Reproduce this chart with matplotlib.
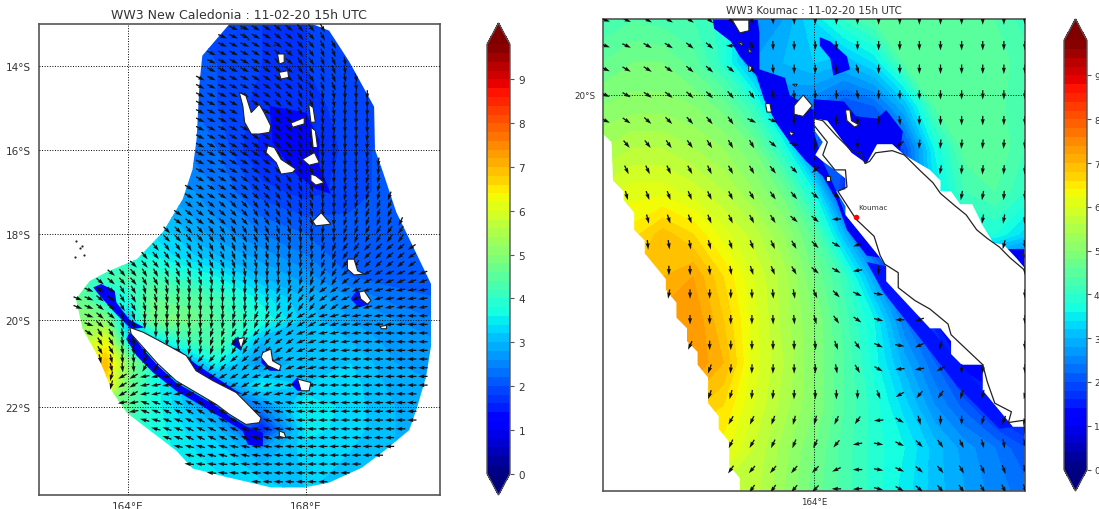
import numpy as np
import matplotlib
matplotlib.use("Agg")
import matplotlib.pyplot as plt
from matplotlib.patches import Polygon
from matplotlib.path import Path

TITLE_L = "WW3 New Caledonia : 11-02-20 15h UTC"
TITLE_R = "WW3 Koumac : 11-02-20 15h UTC"
LEVELS = np.arange(0, 9.81, 0.2)
CB_TICKS = list(range(10))
GREY = "#555555"
TEXT = "#333333"

# ---------- left panel: wave height table ----------
H1_LON = [162.5, 163, 163.5, 164, 164.5, 165, 165.5, 166, 167, 168, 169, 170, 171]
H1_LAT = [-24, -23, -22.5, -22, -21.5, -21, -20.5, -20, -19.5, -19, -18.5, -18, -17, -16, -15, -14, -13]
H1 = [
    [3.6, 3.6, 3.6, 3.6, 3.6, 3.5, 3.5, 3.5, 3.4, 3.2, 3.1, 3, 2.9],
    [3.9, 3.9, 3.9, 3.8, 3.7, 3.6, 3.4, 3.3, 2.8, 3.3, 3.2, 3, 2.9],
    [4.5, 4.5, 4.5, 4.1, 3.8, 3.5, 3.3, 3, 1.5, 3.5, 3.3, 3, 2.9],
    [5, 5, 5, 4.5, 3.8, 3.4, 3, 2.6, 2.5, 3.6, 3.3, 3, 2.9],
    [6.5, 6.5, 6.5, 4.8, 3.8, 3.3, 2.8, 2.5, 3.5, 3.2, 3.3, 2.9, 2.8],
    [6, 6, 7, 5, 4, 3, 3, 3.6, 2.6, 3.2, 3.2, 2.8, 2.7],
    [5.6, 5.6, 6.2, 3.5, 3, 3.7, 4.2, 4.4, 3, 3.2, 3, 2.7, 2.6],
    [5, 5, 5, 3, 4.7, 4.9, 4.7, 4.4, 3.8, 3.1, 2.8, 2.6, 2.4],
    [4.6, 4.6, 3.5, 3.7, 4.6, 4.5, 4.5, 4.2, 3.5, 3, 2.6, 2.3, 2.2],
    [4.2, 4.2, 4.2, 4.3, 4.2, 4.0, 3.8, 3.6, 3, 2.7, 2.2, 2.1, 2.2],
    [3.9, 3.9, 3.9, 3.7, 3.6, 3.4, 3.2, 3, 2.7, 2.4, 2, 2.1, 2.2],
    [3.5, 3.5, 3.5, 3.5, 3.4, 3.2, 2.9, 2.7, 2.4, 2.2, 2.1, 2.2, 2.2],
    [2.7, 2.7, 2.7, 2.7, 2.7, 2.7, 2.6, 2.4, 1.9, 1.7, 1.9, 2.1, 2.1],
    [2.3, 2.3, 2.3, 2.3, 2.3, 2.3, 2.3, 2.2, 1.5, 1.5, 1.9, 2.1, 2.1],
    [2.2, 2.2, 2.2, 2.2, 2.2, 2.2, 2.2, 2.0, 1.7, 1.7, 1.9, 2, 2],
    [2, 2, 2, 2, 2, 2.1, 2.1, 2.0, 1.8, 1.8, 1.9, 2, 2],
    [2, 2, 2, 2, 2, 2, 2, 2, 1.8, 1.8, 1.9, 2, 2],
]
DOMAIN1 = [(166.28, -13.0), (168.14, -13.0), (168.52, -13.16), (168.97, -13.9), (169.53, -14.98),
           (169.55, -16.0), (169.71, -16.47), (170.03, -17.48), (170.32, -18.1), (170.43, -18.34),
           (170.81, -19.16), (170.81, -20.6), (170.7, -21.3), (170.5, -22.0), (170.32, -22.53),
           (169.76, -23.0), (169.26, -23.38), (168.52, -23.72), (167.96, -23.83), (167.22, -23.83),
           (166.28, -23.61), (165.45, -23.4), (165.09, -23.0), (164.78, -22.76), (164.26, -22.36),
           (163.97, -22.13), (163.66, -21.67), (163.52, -21.32), (163.32, -20.83), (162.98, -20.2),
           (162.83, -19.51), (163.14, -19.09), (163.52, -18.88), (164.2, -18.58), (164.78, -17.95),
           (165.23, -17.17), (165.45, -16.47), (165.54, -15.76), (165.61, -14.38), (165.67, -13.76)]
# sheltered water behind the islands: (height value, outline)
LEE1 = [
    (1.0, [(164.04, -20.28), (164.34, -20.67), (164.67, -21.05), (165.08, -21.44), (165.53, -21.71),
           (165.98, -21.98), (166.28, -22.21), (166.65, -22.44), (167.03, -22.59), (167.03, -22.9),
           (166.69, -22.86), (166.58, -22.55), (165.98, -22.17), (165.53, -21.9), (165.08, -21.63),
           (164.56, -21.21), (164.19, -20.82), (163.96, -20.44)]),
    (1.2, [(163.22, -19.24), (163.4, -19.16), (163.7, -19.32), (163.74, -19.59), (164.04, -20.0),
           (164.37, -20.17), (164.07, -20.21), (163.66, -19.78), (163.33, -19.39)]),
    (1.2, [(164.93, -20.63), (165.12, -20.67), (165.53, -21.02), (166.43, -21.63), (166.58, -21.71),
           (166.28, -21.67), (165.53, -21.25)]),
    (0.8, [(166.32, -20.55), (166.47, -20.38), (166.59, -20.52), (166.54, -20.71)]),
    (1.2, [(166.99, -20.98), (167.03, -20.71), (167.21, -20.82), (167.44, -21.17), (167.18, -21.17)]),
    (1.2, [(167.66, -21.48), (167.81, -21.32), (168.0, -21.63), (167.81, -21.63)]),
    (1.3, [(167.18, -14.96), (168.0, -15.12), (168.3, -15.76), (168.3, -16.38), (168.56, -17.05),
           (168.22, -16.93), (167.77, -16.58), (167.25, -15.84)]),
    (1.4, [(169.0, -19.51), (169.16, -19.28), (169.42, -19.63), (169.19, -19.71)]),
]
ISLANDS1 = [
    [(164.04, -20.17), (164.34, -20.28), (164.78, -20.52), (165.31, -20.82), (165.53, -21.17), (165.91, -21.4),
     (166.43, -21.67), (166.73, -21.98), (166.99, -22.25), (166.95, -22.36), (166.65, -22.4), (166.28, -22.17),
     (165.98, -21.94), (165.53, -21.67), (165.08, -21.4), (164.67, -21.01), (164.34, -20.63), (164.07, -20.32)],
    [(166.5, -14.64), (166.65, -14.72), (166.77, -15.12), (166.95, -14.92), (167.06, -15.12), (167.21, -15.44),
     (167.18, -15.59), (166.95, -15.63), (166.77, -15.63), (166.62, -15.35), (166.58, -14.96)],
    [(167.14, -15.91), (167.29, -15.95), (167.44, -16.23), (167.77, -16.46), (167.7, -16.54), (167.44, -16.58),
     (167.33, -16.31), (167.1, -16.07)],
    [(167.66, -15.37), (167.96, -15.24), (167.96, -15.39), (167.7, -15.47)],
    [(168.06, -14.92), (168.16, -15.0), (168.21, -15.35), (168.11, -15.35)],
    [(168.11, -15.47), (168.21, -15.55), (168.26, -15.95), (168.16, -15.95)],
    [(167.92, -16.23), (168.19, -16.07), (168.3, -16.31), (168.07, -16.37)],
    [(168.11, -16.58), (168.22, -16.62), (168.41, -16.78), (168.22, -16.84), (168.11, -16.74)],
    [(168.15, -17.69), (168.34, -17.49), (168.56, -17.76), (168.22, -17.8)],
    [(167.36, -13.72), (167.51, -13.72), (167.51, -13.92), (167.4, -13.96)],
    [(167.39, -14.16), (167.59, -14.12), (167.61, -14.28), (167.44, -14.32)],
    [(168.93, -18.58), (169.08, -18.58), (169.16, -18.85), (169.31, -18.93), (169.08, -18.95), (168.93, -18.81)],
    [(169.19, -19.35), (169.31, -19.32), (169.46, -19.55), (169.38, -19.63), (169.23, -19.51)],
    [(169.66, -20.15), (169.81, -20.12), (169.81, -20.2), (169.7, -20.2)],
    [(166.47, -20.44), (166.62, -20.4), (166.54, -20.67)],
    [(167.03, -20.75), (167.21, -20.67), (167.25, -20.94), (167.44, -21.05), (167.4, -21.17), (167.14, -21.05), (166.99, -20.86)],
    [(167.81, -21.36), (168.11, -21.44), (168.07, -21.63), (167.89, -21.63)],
    [(167.4, -22.55), (167.51, -22.59), (167.55, -22.71), (167.4, -22.67)],
]
DOTS1_LON = [166.54, 166.58, 166.69, 167.29, 167.63, 168.0, 168.22, 168.31, 168.56, 168.37, 168.33, 162.84, 162.96, 162.92, 162.8, 163.0]
DOTS1_LAT = [-13.1, -13.24, -13.36, -13.5, -13.65, -14.38, -16.46, -16.48, -16.93, -17.05, -17.43, -18.16, -18.27, -18.31, -18.52, -18.48]

# arrow orientation table, degrees
A1_LON = [163, 163.5, 164, 164.5, 165, 165.5, 166, 166.5, 167, 167.5, 168, 168.5, 169, 169.5, 170, 170.5]
A1_LAT = [-13, -14, -15, -16, -17, -17.5, -18, -18.5, -19, -19.5, -20, -20.5, -21, -21.5, -22, -22.5, -23, -23.5]
A1 = [
    [-30, -30, -30, -30, -30, -28, -25, -25, -30, -38, -50, -62, -75, -85, -90, -90],
    [-30, -30, -30, -30, -30, -27, -25, -27, -32, -40, -55, -68, -80, -88, -92, -92],
    [-30, -30, -30, -30, -30, -27, -26, -28, -35, -45, -65, -80, -88, -92, -96, -98],
    [-30, -30, -30, -30, -30, -27, -27, -30, -35, -45, -65, -85, -92, -98, -102, -105],
    [-30, -30, -30, -30, -30, -30, -32, -38, -45, -55, -70, -90, -100, -105, -110, -115],
    [-35, -35, -35, -35, -35, -38, -42, -48, -55, -62, -75, -92, -105, -110, -115, -120],
    [-40, -40, -40, -40, -45, -50, -55, -60, -65, -72, -85, -97, -110, -118, -125, -130],
    [-45, -45, -45, -50, -55, -60, -65, -70, -76, -85, -97, -110, -125, -135, -140, -145],
    [-30, -40, -50, -60, -68, -72, -78, -82, -88, -95, -105, -120, -140, -150, -158, -160],
    [-22, -38, -60, -75, -80, -85, -88, -93, -100, -110, -125, -145, -158, -165, -170, -172],
    [-20, -40, -75, -88, -90, -92, -97, -105, -115, -130, -150, -165, -172, -175, -178, -180],
    [-35, -60, -80, -90, -95, -100, -108, -120, -130, -145, -160, -170, -175, -178, -180, -180],
    [-60, -78, -85, -120, -135, -130, -130, -140, -150, -160, -168, -175, -178, -180, -180, -180],
    [-100, -105, -150, -170, -170, -160, -150, -150, -160, -170, -175, -178, -180, -180, -180, -180],
    [-150, -150, -170, -200, -205, -210, -212, -212, -200, -190, -182, -180, -180, -180, -180, -180],
    [-190, -190, -190, -195, -200, -205, -205, -205, -195, -187, -182, -180, -180, -180, -180, -180],
    [-192, -192, -192, -192, -192, -195, -195, -192, -187, -184, -180, -180, -180, -180, -180, -180],
    [-185, -185, -185, -185, -185, -185, -185, -185, -183, -182, -180, -180, -180, -180, -180, -180],
]
ARROW1_LON = np.arange(162.875, 170.9, 0.25)
ARROW1_LAT = np.arange(-13.1, -23.95, -0.2)

# ---------- right panel ----------
H2_LON = [162.6, 162.8, 163, 163.2, 163.4, 163.6, 163.8, 164, 164.2, 164.4, 164.6, 164.8, 165, 165.2, 165.4]
H2_LAT = [-21.85, -21.65, -21.45, -21.25, -21.05, -20.85, -20.65, -20.45, -20.25, -20.05, -19.85, -19.65, -19.6]
H2 = [
    [5.7, 5.7, 5.7, 5.7, 5.7, 5.7, 5.2, 4.7, 4.3, 3.9, 3.5, 3.1, 2.8, 2.5, 2.3],
    [6.3, 6.3, 6.3, 6.3, 6.3, 5.8, 5.3, 4.8, 4.3, 3.9, 3.6, 3.1, 2.7, 2.4, 2.0],
    [6.6, 6.6, 6.6, 6.9, 6.6, 6.0, 5.5, 5.0, 4.4, 3.9, 3.3, 2.6, 2.1, 1.5, 1.2],
    [7.2, 7.2, 7.2, 7.4, 7.0, 6.1, 5.6, 5.0, 4.4, 3.7, 2.9, 2.2, 1.2, 1.2, 1.2],
    [7.3, 7.3, 7.3, 7.4, 6.8, 6.1, 5.5, 5.0, 4.3, 3.6, 2.4, 1.4, 1.2, 1.2, 1.2],
    [6.8, 6.8, 7.0, 7.2, 6.6, 6.0, 5.5, 4.8, 4.1, 2.8, 1.5, 1.5, 1.5, 1.5, 1.5],
    [6.3, 6.5, 6.9, 6.6, 6.1, 5.7, 5.2, 4.5, 3.0, 1.5, 2.4, 3.0, 3.6, 3.8, 3.3],
    [5.9, 6.1, 6.1, 5.9, 5.6, 5.2, 4.7, 3.6, 1.6, 1.5, 2.0, 3.4, 4.2, 4.4, 4.0],
    [5.4, 5.6, 5.6, 5.4, 5.2, 4.8, 3.8, 2.2, 2.0, 2.0, 2.0, 3.6, 4.5, 4.6, 4.2],
    [5.0, 5.1, 5.1, 5.0, 4.7, 4.0, 2.6, 2.4, 2.0, 2.2, 3.0, 4.4, 4.6, 4.5, 4.2],
    [4.6, 4.8, 4.8, 4.5, 3.9, 2.8, 3.0, 3.2, 3.0, 3.4, 4.4, 4.6, 4.6, 4.5, 4.3],
    [4.2, 4.4, 4.3, 4.2, 3.9, 2.8, 2.8, 3.4, 4.0, 4.4, 4.5, 4.5, 4.5, 4.4, 4.1],
    [4.2, 4.4, 4.3, 4.2, 3.9, 2.8, 2.8, 3.4, 4.0, 4.4, 4.5, 4.5, 4.5, 4.4, 4.1],
]
LEE2 = [
    (1.0, [(163.32, -19.6), (163.34, -19.69), (163.45, -19.75), (163.51, -19.82), (163.62, -19.91), (163.67, -20.02),
           (163.75, -20.13), (163.84, -20.22), (163.95, -20.31), (164.06, -20.38), (164.15, -20.49), (164.22, -20.63),
           (164.35, -20.75), (164.44, -20.76), (164.21, -20.56), (164.15, -20.45), (164.06, -20.31), (164.0, -20.17),
           (164.0, -20.07), (163.84, -20.0), (163.81, -19.92), (163.64, -19.88), (163.64, -19.71), (163.62, -19.6)]),
    (1.1, [(164.04, -19.73), (164.11, -19.75), (164.22, -19.82), (164.24, -19.88), (164.13, -19.91), (164.11, -19.83), (164.04, -19.77)]),
    (1.0, [(164.0, -20.02), (164.2, -20.03), (164.28, -20.1), (164.42, -20.11), (164.48, -20.07), (164.59, -20.17),
           (164.57, -20.27), (164.52, -20.23), (164.42, -20.23), (164.35, -20.32), (164.25, -20.27), (164.09, -20.12), (164.0, -20.11)]),
    (1.4, [(164.48, -20.8), (164.77, -21.09), (164.98, -21.26), (165.12, -21.38), (165.32, -21.55), (165.23, -21.56),
           (164.95, -21.36), (164.73, -21.16), (164.46, -20.92), (164.35, -20.78)]),
    (1.0, [(165.26, -20.72), (165.4, -20.72), (165.4, -20.81), (165.34, -20.76)]),
]
DOMAIN2 = [(162.6, -19.6), (162.6, -20.18), (162.66, -20.22), (162.67, -20.4), (162.74, -20.45), (162.74, -20.49),
           (162.81, -20.55), (162.81, -20.63), (162.88, -20.68), (162.88, -20.74), (163.02, -20.86), (163.02, -20.91),
           (163.09, -20.97), (163.09, -21.04), (163.16, -21.09), (163.16, -21.15), (163.23, -21.2), (163.23, -21.26),
           (163.3, -21.32), (163.3, -21.44), (163.37, -21.5), (163.37, -21.56), (163.44, -21.62), (163.44, -21.73),
           (163.51, -21.79), (163.51, -21.9), (165.4, -21.9), (165.4, -19.6)]
LAND2 = [(164.0, -20.11), (164.09, -20.12), (164.25, -20.27), (164.35, -20.32), (164.42, -20.23), (164.52, -20.23),
         (164.6, -20.28), (164.77, -20.35), (164.84, -20.4), (164.84, -20.45), (164.91, -20.45), (164.97, -20.51),
         (165.05, -20.51), (165.12, -20.61), (165.19, -20.69), (165.26, -20.7), (165.34, -20.76), (165.4, -20.81),
         (165.4, -21.55), (165.32, -21.55), (165.12, -21.38), (165.12, -21.26), (164.98, -21.26), (164.91, -21.21),
         (164.91, -21.15), (164.84, -21.09), (164.77, -21.09), (164.48, -20.87), (164.48, -20.8), (164.44, -20.76),
         (164.21, -20.56), (164.21, -20.52), (164.15, -20.45), (164.21, -20.44), (164.21, -20.39), (164.14, -20.35),
         (164.06, -20.31), (164.01, -20.28), (164.06, -20.22), (164.01, -20.17)]
COAST2_A = [(164.0, -20.11), (164.06, -20.12), (164.15, -20.19), (164.25, -20.26), (164.31, -20.27), (164.34, -20.32),
            (164.37, -20.31), (164.41, -20.27), (164.52, -20.26), (164.6, -20.28), (164.7, -20.35), (164.79, -20.41),
            (164.84, -20.46), (164.94, -20.52), (165.01, -20.56), (165.08, -20.63), (165.15, -20.67), (165.23, -20.71),
            (165.3, -20.76), (165.4, -20.82)]
COAST2_B = [(164.0, -20.11), (164.0, -20.14), (164.09, -20.22), (164.06, -20.28), (164.14, -20.35), (164.21, -20.35),
            (164.22, -20.43), (164.16, -20.45), (164.28, -20.58), (164.4, -20.66), (164.44, -20.75), (164.47, -20.79),
            (164.56, -20.83), (164.56, -20.9), (164.67, -20.96), (164.77, -21.0), (164.89, -21.07), (164.91, -21.12),
            (165.12, -21.26), (165.15, -21.34), (165.2, -21.44), (165.31, -21.48), (165.29, -21.53), (165.39, -21.52),
            (165.4, -21.58)]
ISLANDS2 = [
    [(163.46, -19.65), (163.57, -19.65), (163.57, -19.7), (163.51, -19.71)],
    [(163.5, -19.75), (163.53, -19.76), (163.52, -19.77)],
    [(163.57, -19.78), (163.59, -19.8), (163.57, -19.8)],
    [(163.57, -19.86), (163.59, -19.87), (163.58, -19.89), (163.57, -19.89)],
    [(163.86, -19.95), (163.89, -19.95), (163.88, -19.96)],
    [(163.68, -20.04), (163.71, -20.04), (163.72, -20.08), (163.69, -20.08)],
    [(163.93, -20.0), (163.99, -20.05), (163.93, -20.1), (163.87, -20.09), (163.87, -20.05)],
    [(163.84, -20.17), (163.87, -20.18), (163.85, -20.19), (163.84, -20.18)],
    [(164.21, -20.07), (164.24, -20.07), (164.25, -20.12), (164.3, -20.14), (164.27, -20.15), (164.22, -20.12)],
    [(164.08, -20.38), (164.11, -20.38), (164.11, -20.4), (164.08, -20.4)],
    [(165.38, -20.74), (165.4, -20.75), (165.4, -20.76)],
]
KOUMAC = (164.28, -20.57)
ARROW2_LON = [162.62, 162.76, 162.9, 163.04, 163.18, 163.31, 163.45, 163.59, 163.73, 163.87, 164.01,
              164.15, 164.29, 164.43, 164.57, 164.7, 164.84, 164.98, 165.12, 165.26, 165.4]
ARROW2_LAT = [-19.65, -19.77, -19.88, -20.0, -20.12, -20.23, -20.35, -20.47, -20.58, -20.7, -20.82,
              -20.93, -21.05, -21.17, -21.28, -21.4, -21.52, -21.63, -21.75, -21.84]
A2 = [
    [-20, -25, -30, -32, -35, -40, -45, -60, -85, -88, -90, -90, -90, -90, -90, -90, -90, -90, -90, -90, -90],
    [-20, -25, -30, -32, -38, -40, -180, -60, -88, -88, -90, -85, -90, -90, -90, -90, -90, -90, -90, -90, -90],
    [-25, -30, -32, -35, -40, -42, -40, -55, -85, -90, -90, -85, -75, -90, -90, -90, -90, -90, -90, -90, -90],
    [-25, -30, -35, -38, -42, -45, -50, -55, -75, -85, -90, -90, -80, -90, -90, -90, -90, -90, -90, -90, -90],
    [-25, -35, -42, -45, -48, -50, -55, -25, -20, -90, -90, -90, -90, -90, -85, -90, -90, -90, -90, -90, -90],
    [-45, -50, -52, -55, -55, -58, -60, -60, -40, -15, -90, -90, -90, -90, -145, -95, -95, -95, -95, -95, -95],
    [-65, -65, -65, -65, -62, -65, -62, -60, -52, -45, -140, -90, -90, -90, -90, -100, -100, -95, -95, -95, -95],
    [-80, -75, -70, -70, -68, -65, -65, -60, -55, -50, -40, -40, -90, -90, -90, -90, -90, -100, -100, -95, -90],
    [-85, -80, -75, -72, -70, -68, -65, -62, -58, -40, -40, -178, -90, -90, -90, -90, -90, -90, -100, -100, -100],
    [-85, -85, -85, -82, -80, -75, -72, -70, -65, -60, -45, -30, -160, -90, -90, -90, -90, -90, -90, -105, -80],
    [-90, -90, -90, -90, -88, -85, -80, -72, -68, -60, -40, -30, -170, -90, -90, -90, -90, -90, -90, -90, -90],
    [-100, -100, -100, -100, -90, -90, -90, -88, -85, -80, -65, -45, -25, -10, -90, -90, -90, -90, -90, -90, -90],
    [-90, -90, -90, -90, -90, -90, -90, -90, -88, -85, -75, -55, -35, -15, -180, -160, -90, -90, -90, -90, -90],
    [-115, -115, -115, -115, -115, -90, -90, -90, -90, -90, -85, -70, -55, -25, -10, -155, -105, -90, -90, -90, -90],
    [-110, -110, -110, -110, -110, -110, -95, -92, -92, -90, -90, -80, -60, -30, -175, -170, -150, -90, -90, -90, -90],
    [-110, -110, -110, -110, -110, -110, -105, -95, -95, -92, -90, -90, -90, -70, -150, -130, -125, -105, -105, -105, -105],
    [-120, -120, -120, -120, -120, -120, -120, -115, -110, -105, -105, -115, -125, -175, -30, -75, -90, -90, -105, -110, -110],
    [-115, -115, -115, -115, -115, -115, -115, -120, -115, -112, -115, -130, -170, -10, -25, -45, -55, -65, -75, -80, -75],
    [-125, -125, -125, -125, -125, -125, -125, -130, -130, -130, -135, -155, -180, -10, -25, -40, -50, -60, -65, -70, -75],
    [-125, -125, -125, -125, -125, -125, -125, -125, -125, -130, -135, -180, -175, -15, -30, -40, -50, -55, -60, -65, -70],
]


def merc(lat):
    return np.degrees(np.log(np.tan(np.radians(45 + np.abs(lat) / 2)))) * np.sign(lat)


def imerc(y):
    return np.degrees(2 * np.arctan(np.exp(np.radians(np.abs(y)))) - np.pi / 2) * np.sign(y)


W, H = 1099, 510


def box(x0, y0, x1, y1):
    return [x0 / W, 1 - y1 / H, (x1 - x0) / W, (y1 - y0) / H]


def style(ax, xticks, xlab, yticks, ylab, size, xpad, ypad):
    ax.set_xticks(xticks, xlab)
    ax.set_yticks(yticks, ylab)
    ax.minorticks_off()
    ax.tick_params(length=0, labelsize=size, labelcolor=TEXT)
    ax.tick_params(axis="x", pad=xpad)
    ax.tick_params(axis="y", pad=ypad)
    ax.grid(True, color="black", ls=":", lw=0.7, zorder=3)
    ax.set_axisbelow(False)
    for s in ax.spines.values():
        s.set_color(GREY)
        s.set_linewidth(1.2)


def field(ax, lon, lat, z, domain):
    clip = Polygon(domain, closed=True, fc="none", ec="none", transform=ax.transData)
    ax.add_patch(clip)
    cs = ax.contourf(lon, lat, np.array(z), levels=LEVELS, cmap="jet", extend="both", zorder=1)
    cs.set_clip_path(clip)
    return cs, clip


def colorbar(fig, cs, rect, size, pad):
    cax = fig.add_axes(rect)
    cb = fig.colorbar(cs, cax=cax, extend="both", extendfrac=0.05, ticks=CB_TICKS, drawedges=False)
    cb.ax.minorticks_off()
    cb.ax.tick_params(labelsize=size, length=3, color=GREY, labelcolor=TEXT, width=0.8, pad=pad)
    cb.outline.set_edgecolor(GREY)
    cb.outline.set_linewidth(1)


QUIVER = dict(pivot="mid", color="#111111", units="dots", width=1.3, scale_units="inches",
              scale=10.5, headwidth=3.2, headlength=5, headaxislength=4.5, zorder=4)

fig = plt.figure(figsize=(W / 100, H / 100), dpi=100)

# ---- left map ----
ax1 = fig.add_axes(box(39, 25, 439.5, 496))
ax1.set_yscale("function", functions=(merc, imerc))
ax1.set_xlim(162, 171)
ax1.set_ylim(-24, -13)
cs1, clip1 = field(ax1, H1_LON, H1_LAT, H1, DOMAIN1)
cmap, norm = cs1.cmap, cs1.norm
for val, outline in LEE1:
    p = Polygon(outline, closed=True, fc=cmap(norm(val)), ec="none", zorder=1.5)
    ax1.add_patch(p)
    p.set_clip_path(clip1)
land1 = [Path(i) for i in ISLANDS1]
dom1 = Path(DOMAIN1)
ax_, ay_, au_, av_ = [], [], [], []
for la in ARROW1_LAT:
    for lo in ARROW1_LON:
        if not dom1.contains_point((lo, la)) or any(p.contains_point((lo, la)) for p in land1):
            continue
        i = int(np.argmin(np.abs(np.array(A1_LAT) - la)))
        j = int(np.argmin(np.abs(np.array(A1_LON) - lo)))
        t = np.radians(A1[i][j])
        ax_.append(lo); ay_.append(la); au_.append(np.cos(t)); av_.append(np.sin(t))
ax1.quiver(ax_, ay_, au_, av_, **QUIVER)
for isl in ISLANDS1:
    ax1.add_patch(Polygon(isl, closed=True, fc="white", ec="#222222", lw=0.8, zorder=5))
ax1.scatter(DOTS1_LON, DOTS1_LAT, s=2.5, c="#222222", lw=0, zorder=5)
style(ax1, [164, 168], ["164°E", "168°E"], [-22, -20, -18, -16, -14],
      ["22°S", "20°S", "18°S", "16°S", "14°S"], 7.5, 4, 6)
ax1.set_title(TITLE_L, fontsize=9, color=TEXT, pad=4)
colorbar(fig, cs1, box(487, 24, 510, 496), 7.5, 3)

# ---- right map ----
ax2 = fig.add_axes(box(602.5, 20, 1025, 492))
ax2.set_xlim(162.6, 165.4)
ax2.set_ylim(-21.85, -19.645)
cs2, clip2 = field(ax2, H2_LON, H2_LAT, H2, DOMAIN2)
for val, outline in LEE2:
    p = Polygon(outline, closed=True, fc=cs2.cmap(cs2.norm(val)), ec="none", zorder=1.5)
    ax2.add_patch(p)
ax2.add_patch(Polygon(LAND2, closed=True, fc="white", ec="none", zorder=2))
dom2, land2 = Path(DOMAIN2), Path(LAND2)
bx, by, bu, bv = [], [], [], []
for i, la in enumerate(ARROW2_LAT):
    for j, lo in enumerate(ARROW2_LON):
        if not dom2.contains_point((lo, la), radius=0.03) or land2.contains_point((lo, la)):
            continue
        t = np.radians(A2[i][j])
        bx.append(lo); by.append(la); bu.append(np.cos(t)); bv.append(np.sin(t))
ax2.quiver(bx, by, bu, bv, **QUIVER)
for c in (COAST2_A, COAST2_B):
    ax2.plot(*zip(*c), color="#222222", lw=0.9, zorder=5)
for isl in ISLANDS2:
    ax2.add_patch(Polygon(isl, closed=True, fc="white", ec="#222222", lw=0.8, zorder=5))
ax2.scatter([KOUMAC[0]], [KOUMAC[1]], s=16, c="red", lw=0, zorder=6)
ax2.text(KOUMAC[0] + 0.015, KOUMAC[1] + 0.035, "Koumac", fontsize=5.3, color=TEXT, va="bottom", zorder=6)
style(ax2, [164], ["164°E"], [-20], ["20°S"], 6.3, 4, 5)
ax2.set_title(TITLE_R, fontsize=7.5, color=TEXT, pad=4)
colorbar(fig, cs2, box(1064, 20, 1087, 492), 6.5, 2)

fig.savefig("out.png", dpi=100)
